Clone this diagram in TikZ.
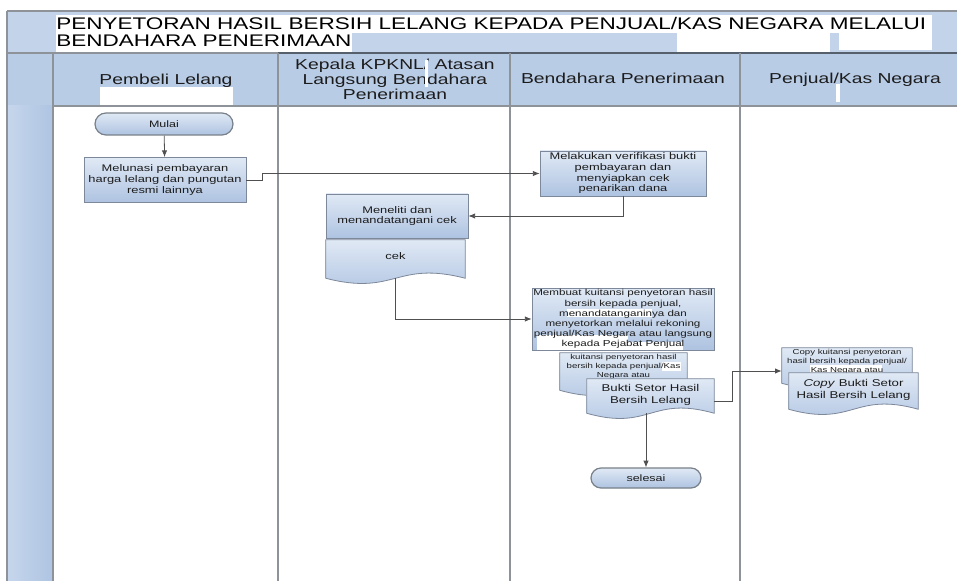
\documentclass[tikz,border=0pt]{standalone}
\usepackage{fontspec}
\setmainfont{Liberation Sans}[FakeStretch=1.34]
\usetikzlibrary{shapes.misc,arrows.meta,calc}
\definecolor{band}{HTML}{C2D3EA}
\definecolor{hdr}{HTML}{B9CCE6}
\definecolor{sidel}{HTML}{C6D6EC}
\definecolor{sider}{HTML}{AFC4E2}
\definecolor{gridc}{HTML}{8E939A}
\definecolor{gridd}{HTML}{56606C}
\definecolor{boxtop}{HTML}{E0E9F5}
\definecolor{boxbot}{HTML}{AEC3E1}
\definecolor{boxline}{HTML}{7D889A}
\definecolor{conn}{HTML}{505050}
\definecolor{txt}{HTML}{1C1C1C}
\newcommand{\docpath}[1]{%
  \path[docshape] (#1.north west) -- (#1.north east) -- (#1.south east)
    .. controls ($(#1.south)+(0,-18)$) and ($(#1.south)+(0,18)$) .. (#1.south west) -- cycle;}
\begin{document}
\begin{tikzpicture}[x=0.75pt,y=-0.75pt,
  gridline/.style={draw=gridc,line width=0.9pt},
  boxstyle/.style={draw=boxline,line width=0.6pt,top color=boxtop,bottom color=boxbot,
    rectangle,inner sep=0pt,align=center,text=txt},
  docnode/.style={rectangle,inner sep=0pt},
  docshape/.style={draw=boxline,line width=0.6pt,top color=boxtop,bottom color=boxbot},
  term/.style={rounded rectangle,draw=gridd!80,line width=0.9pt,top color=boxtop,
    bottom color=boxbot,inner sep=0pt,text=txt,font=\fontsize{7}{8}\selectfont},
  bt/.style={font=\fontsize{7.2}{8}\selectfont,align=center,text=txt,inner sep=0pt},
  st/.style={font=\fontsize{5.4}{6.6}\selectfont,align=center,text=txt,inner sep=0pt},
  bigt/.style={font=\fontsize{7.4}{9}\selectfont,align=center,text=txt,inner sep=0pt},
  hd/.style={font=\fontsize{10.8}{11.25}\selectfont,align=center,text=txt,inner sep=0pt},
  conn/.style={draw=conn,line width=0.6pt,-{Latex[length=5pt,width=4pt]}},
  patch/.style={fill=white}
]
\useasboundingbox (0,0) rectangle (957,581);
\fill[white] (0,0) rectangle (957,581);
% swimlane frame
\fill[band] (7,11) rectangle (957,53);
\fill[hdr] (7,53) rectangle (957,106);
\fill[left color=sidel,right color=sider] (7,106) rectangle (53,581);
% title patches
\fill[patch] (56,15) rectangle (932,33);
\fill[patch] (56,33) rectangle (352,52);
\fill[patch] (677,33) rectangle (830,52);
\fill[patch] (839,33) rectangle (932,50);
\fill[patch] (100,87) rectangle (233,108);
% lines
\draw[gridline] (7,11) -- (957,11);
\draw[gridline,line width=1.2pt] (7,11) -- (7,581);
\draw[gridline,line width=1.2pt] (53,53) -- (53,581);
\draw[gridline] (7,53) -- (278,53);
\draw[draw=gridd,line width=1.1pt] (278,53) -- (957,53);
\draw[gridline] (53,106) -- (957,106);
\draw[gridline] (278,53) -- (278,581);
\draw[gridline] (510,53) -- (510,581);
\draw[gridline] (740,53) -- (740,581);
% title
\node[anchor=base west,inner sep=0pt,font=\fontsize{12.6}{15}\selectfont] (title1) at (56,30)
  {PENYETORAN HASIL BERSIH LELANG KEPADA PENJUAL/KAS NEGARA MELALUI};
\node[anchor=base west,inner sep=0pt,font=\fontsize{12.6}{15}\selectfont] (title2) at (56,46.5)
  {BENDAHARA PENERIMAAN};
% headers
\node[hd,anchor=base] (h1) at (166,85) {Pembeli Lelang};
\node[hd] (h2) at (395,79) {Kepala KPKNL/ Atasan\\Langsung Bendahara\\Penerimaan};
\node[hd,anchor=base] (h3) at (623,84) {Bendahara Penerimaan};
\node[hd,anchor=base] (h4) at (855,84) {Penjual/Kas Negara};
\fill[patch] (425,60) rectangle (428,87);
\fill[patch] (836,84) rectangle (840,102);
% process nodes
\node[term,minimum width=103.5pt,minimum height=16.5pt] (mulai) at (164,124) {Mulai};
\node[boxstyle,bt,minimum width=121.5pt,minimum height=33.75pt] (pay) at (165,180)
  {Melunasi pembayaran\\harga lelang dan pungutan\\resmi lainnya};
\node[boxstyle,bt,minimum width=124.5pt,minimum height=33.75pt] (verif) at (623,173.5)
  {Melakukan verifikasi bukti\\pembayaran dan\\menyiapkan cek\\penarikan dana};
\node[boxstyle,bt,minimum width=106.5pt,minimum height=33pt] (sign) at (397,216)
  {Meneliti dan\\menandatangani cek};
% cek document
\node[docnode,minimum width=104.25pt,minimum height=28.5pt] (cek) at (395.5,259) {};
\docpath{cek}
\node[bt] (cekt) at (395.5,256) {cek};
% receipt box
\node[boxstyle,minimum width=136.5pt,minimum height=46.5pt] (receipt) at (623,319) {};
\fill[patch] (567,309) rectangle (652,317);
\fill[patch] (537,335) rectangle (628,350);
\fill[patch] (628,342) rectangle (683,350);
\node[bt,font=\fontsize{6.5}{7.6}\selectfont] (receiptt) at (623,319)
  {Membuat kuitansi penyetoran hasil\\bersih kepada penjual,\\menandatanganinya dan\\menyetorkan melalui rekoning\\penjual/Kas Negara atau langsung\\kepada Pejabat Penjual};
% kuitansi document (back)
\node[docnode,minimum width=95.25pt,minimum height=27.75pt] (kuit) at (623.5,371.5) {};
\docpath{kuit}
\fill[patch] (662,362) rectangle (681,371);
\node[st,anchor=north] (kuitt) at (623.5,354) {kuitansi penyetoran hasil\\bersih kepada penjual/Kas\\Negara atau};
% bukti document (front)
\node[docnode,minimum width=95.25pt,minimum height=25.5pt] (bukti) at (650.5,396) {};
\docpath{bukti}
\node[bigt] (buktit) at (650.5,395) {Bukti Setor Hasil\\Bersih Lelang};
% selesai
\node[term,minimum width=82.5pt,minimum height=15pt] (selesai) at (646,478) {selesai};
% copy documents
\node[docnode,minimum width=97.5pt,minimum height=26.25pt] (copykuit) at (847,365.5) {};
\docpath{copykuit}
\fill[patch] (810,365) rectangle (882,373);
\node[st,anchor=north] (copykuitt) at (847,349) {Copy kuitansi penyetoran\\hasil bersih kepada penjual/\\Kas Negara atau};
\node[docnode,minimum width=96.75pt,minimum height=27pt] (copybukti) at (853.5,391) {};
\docpath{copybukti}
\node[bigt] (copybuktit) at (853.5,390) {\textit{Copy} Bukti Setor\\Hasil Bersih Lelang};
% connectors
\draw[conn] (mulai) -- (pay);
\draw[conn] (pay.east) -- ++(16,0) |- (verif.west);
\draw[conn] (verif.south) |- (sign.east);
\draw[conn] (cek.south) |- (receipt.west);
\draw[conn] ($(bukti.east)+(0,5)$) -- ++(18,0) |- ($(copykuit.west)+(0,5.5)$);
\draw[conn] (selesai.north |- bukti.south) -- (selesai.north);
\end{tikzpicture}
\end{document}
